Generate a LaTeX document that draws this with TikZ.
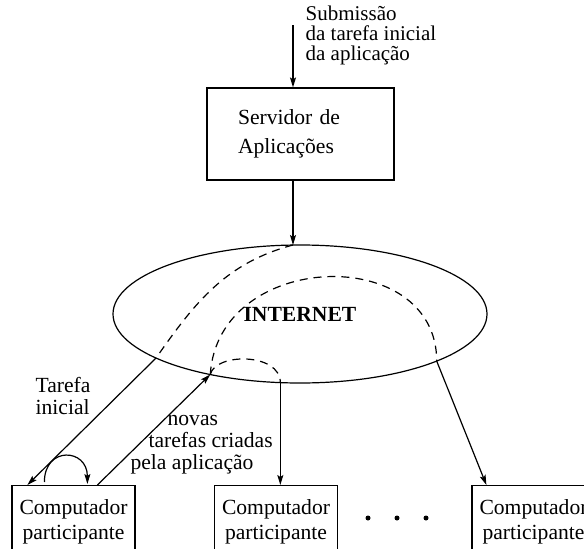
\documentclass[tikz,border=0pt]{standalone}
\usepackage{fontspec}
\setmainfont{Liberation Serif}
\usetikzlibrary{shapes.geometric,arrows.meta,positioning,calc}

\begin{document}
\begin{tikzpicture}[
    x=0.5pt, y=0.5pt,
    >={Stealth[length=5pt,width=3pt,inset=1pt]},
    line width=0.6pt,
    font=\fontsize{10.8}{12.5}\selectfont,
    box/.style={rectangle, draw, minimum width=#1, align=center, inner sep=3pt},
    arrow/.style={->},
    hop/.style={dash pattern=on 4pt off 3pt},
    lbl/.style={align=left, inner sep=0pt, font=\fontsize{10.8}{11}\selectfont}
]
\useasboundingbox (0,0) rectangle (584,548);
\clip (0,0) rectangle (584,548);

% Server
\coordinate (sub) at (293,523);
\node[lbl, anchor=west, font=\fontsize{10.5}{10}\selectfont] (sublbl) at (305,513) {Submissão\\da tarefa inicial\\da aplicação};
\node[box=93.5pt, minimum height=46pt, text width=62.5pt, align=left,
      font=\fontsize{10.8}{14.5}\selectfont] (server) at (300.5,414) {Servidor de\\Aplicações};

% Network
\node[ellipse, draw, minimum width=187pt, minimum height=69pt, inner sep=0pt, outer sep=0pt,
      font=\fontsize{10.8}{12.5}\selectfont\bfseries] (net) at (300,234) {INTERNET};

% Participants
\node[box=61.5pt, minimum height=36pt, anchor=north] (comp1) at (73.5,63) {Computador\\participante};
\node[box=61.5pt, minimum height=36pt, anchor=north] (comp2) at (276,63) {Computador\\participante};
\node[box=61.5pt, minimum height=36pt, anchor=north] (comp3) at (533.5,63) {Computador\\participante};
\foreach \dx in {368,397,426}
    \fill (\dx,30) circle (1.25pt);

% Flow
\draw[arrow] (sub) -- (sub |- server.north);
\coordinate (ntop) at (sub |- net.north);
\draw[arrow] (sub |- server.south) -- (ntop);
\draw[hop] (ntop) to[out=195, in=55] (net.197);
\draw[arrow] (net.197) -- ($(comp1.north west)+(16,0)$);
\draw[arrow] ($(comp1.north west)+(86,0)$) -- (net.214);
\draw[hop] (net.214) .. controls +(5,22) and +(0,30) .. (net.254);
\draw[arrow] (net.254) -- (net.254 |- comp2.north);
\draw[hop] (net.214) .. controls +(8,125) and +(0,118) .. (net.341);
\draw[arrow] (net.341) -- ($(comp3.north west)+(15,0)$);
\draw[arrow] ($(comp1.north west)+(33,3)$) .. controls +(0,36) and +(0,36) .. ($(comp1.north west)+(76,1)$);

% Labels
\node[lbl, anchor=west] (tlbl) at (35,152) {Tarefa\\inicial};
\node[lbl, anchor=west] (nlbl) at (130,103) {\hspace{18.5pt}novas\\\hspace{9pt}tarefas criadas\\pela aplicação};
\end{tikzpicture}
\end{document}
